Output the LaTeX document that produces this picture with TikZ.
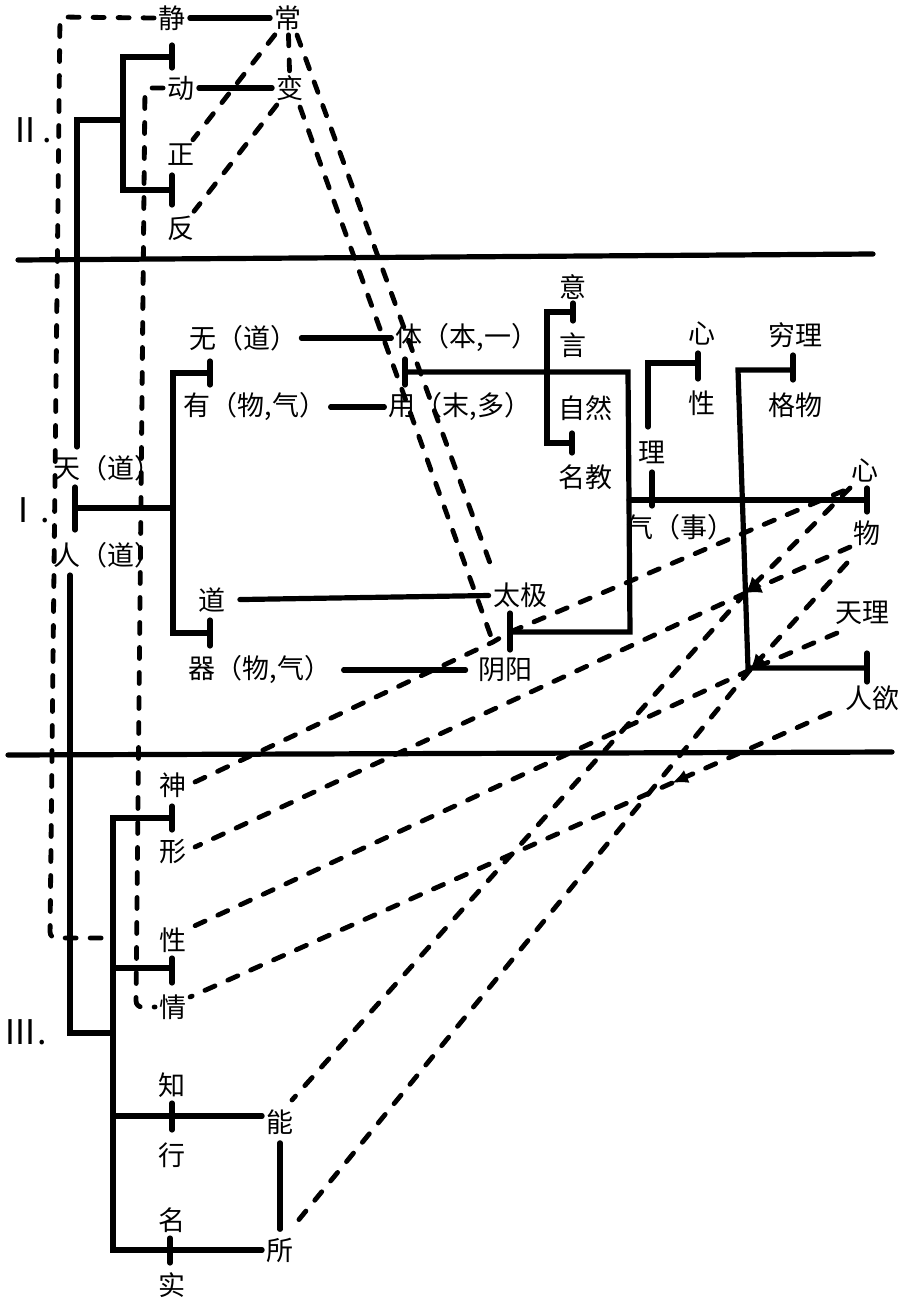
\documentclass[tikz,border=0pt]{standalone}
\usepackage{fontspec}
\newfontfamily\cjk{Noto Sans CJK SC}
\usetikzlibrary{calc,arrows.meta}
\newcommand{\mytick}[3]{\draw[sl] ($(#1)+(0,#2)$) -- ($(#1)+(0,#3)$);}
\begin{document}
\begin{tikzpicture}[x=0.5pt,y=-0.5pt,
  lab/.style={font=\fontsize{13.5pt}{15pt}\cjk, inner sep=2pt},
  rom/.style={font=\fontsize{17pt}{19pt}\cjk, inner sep=1pt},
  sl/.style={line width=2.6pt, line cap=round, line join=miter},
  dl/.style={line width=2.4pt, line cap=round, dash pattern=on 5.5pt off 7pt},
  arr/.style={-{Latex[length=8pt,width=7pt]}}]
\useasboundingbox[fill=white] (0,0) rectangle (904,1300);

% ---------- labels ----------
\node[lab] (jing) at (172,18) {静};
\node[lab] (chang) at (288,18) {常};
\node[lab] (dong) at (181,88) {动};
\node[lab] (bian) at (290,88) {变};
\node[lab] (zheng) at (181,155) {正};
\node[lab] (fan) at (181,228) {反};
\node[rom] (r2) at (30,130) {Ⅱ.};

\node[lab] (wu) at (243,338) {无（道）};
\node[lab] (ti) at (467,338) {体（本,一）};
\node[lab] (you) at (255,407) {有（物,气）};
\node[lab] (yong) at (460,407) {用（末,多）};
\node[lab] (yi) at (573,287) {意};
\node[lab] (yan) at (573,345) {言};
\node[lab] (ziran) at (585,408) {自然};
\node[lab] (mingjiao) at (585,477) {名教};
\node[lab] (xina) at (702,333) {心};
\node[lab] (xinga) at (702,403) {性};
\node[lab] (li) at (652,452) {理};
\node[lab] (qishi) at (680,527) {气（事）};
\node[lab] (qiongli) at (795,335) {穷理};
\node[lab] (gewu) at (795,405) {格物};
\node[lab] (xinb) at (865,470) {心};
\node[lab] (wub) at (867,533) {物};
\node[lab] (tianli) at (862,613) {天理};
\node[lab] (renyu) at (872,698) {人欲};
\node[lab] (tian) at (107,468) {天（道）};
\node[lab] (ren) at (107,555) {人（道）};
\node[rom] (r1) at (28,510) {Ⅰ.};
\node[lab] (dao) at (212,600) {道};
\node[lab] (taiji) at (520,595) {太极};
\node[lab] (qi) at (260,670) {器（物,气）};
\node[lab] (yinyang) at (505,670) {阴阳};

\node[lab] (shen) at (173,785) {神};
\node[lab] (xingb) at (173,852) {形};
\node[lab] (xingc) at (173,940) {性};
\node[lab] (qing) at (173,1007) {情};
\node[rom] (r3) at (25,1032) {Ⅲ.};
\node[lab] (zhi) at (172,1085) {知};
\node[lab] (xingd) at (172,1155) {行};
\node[lab] (ming) at (172,1220) {名};
\node[lab] (shi) at (172,1285) {实};
\node[lab] (neng) at (280,1122) {能};
\node[lab] (suo) at (280,1250) {所};

% ---------- separators ----------
\coordinate (s1a) at (18,260); \coordinate (s1b) at (873,254);
\coordinate (s2a) at (8,755);  \coordinate (s2b) at (892,752);
\draw[sl] (s1a) -- (s1b);
\draw[sl] (s2a) -- (s2b);

% ---------- solid links between labels ----------
\draw[sl] (jing) -- (chang);
\draw[sl] (dong) -- (bian);
\draw[sl] (wu) -- (ti);
\draw[sl] (you) -- (yong);
\draw[sl,shorten <=5pt] (dao) -- (taiji);
\draw[sl,shorten <=4pt,shorten >=4pt] (qi) -- (yinyang);
\draw[sl,shorten <=2pt,shorten >=2pt] (neng) -- (suo);

% ---------- bracket II ----------
\coordinate (c2a) at (77,120); \coordinate (c2b) at (123,120);
\coordinate (c2c) at (123,57); \coordinate (c2d) at (172,57);
\coordinate (c2e) at (123,190); \coordinate (c2f) at (172,190);
\coordinate (c1t) at (77,447);
\draw[sl] (c1t) -- (c2a) -- (c2b);
\draw[sl] (c2d) -- (c2c) -- (c2e) -- (c2f);
\mytick{c2d}{-12}{11}
\mytick{c2f}{-15}{15}

% ---------- bracket I ----------
\coordinate (c1a) at (75,508); \coordinate (c1b) at (173,508);
\coordinate (c1c) at (173,373); \coordinate (c1d) at (210,373);
\coordinate (c1e) at (173,633); \coordinate (c1f) at (210,633);
\draw[sl] (c1a) -- (c1b);
\draw[sl] (c1d) -- (c1c) -- (c1e) -- (c1f);
\mytick{c1a}{-21}{22}
\mytick{c1d}{-12}{12}
\mytick{c1f}{-13}{13}

% ---------- bracket III ----------
\coordinate (c3a) at (70,575); \coordinate (c3b) at (70,1033); \coordinate (c3c) at (113,1033);
\coordinate (c3d) at (113,818); \coordinate (c3e) at (172,818);
\coordinate (c3f) at (113,968); \coordinate (c3g) at (172,968);
\coordinate (c3h) at (113,1116); \coordinate (c3j) at (172,1116);
\coordinate (c3k) at (113,1250); \coordinate (c3m) at (170,1250);
\coordinate (c3x) at (113,938);
\draw[sl] (c3a) -- (c3b) -- (c3c);
\draw[sl] (c3e) -- (c3d) -- (c3k) -- (c3k -| suo.west);
\draw[sl] (c3f) -- (c3g);
\draw[sl] (c3h) -- (c3h -| neng.west);
\mytick{c3e}{-12}{12}
\mytick{c3g}{-10}{15}
\mytick{c3j}{-13}{14}
\mytick{c3m}{-12}{13}

% ---------- ti/yong, taiji/yinyang ----------
\coordinate (d1) at (405,372); \coordinate (d2) at (628,372);
\coordinate (d3) at (630,632); \coordinate (d4) at (510,632);
\draw[sl] (d1) -- (d2) -- (d3) -- (d4);
\mytick{d1}{-13}{13}
\mytick{d4}{-19}{18}
\coordinate (e1) at (547,312); \coordinate (e2) at (573,312);
\coordinate (e3) at (547,443); \coordinate (e4) at (572,443);
\draw[sl] (e2) -- (e1) -- (e3) -- (e4);
\mytick{e2}{-9}{9}
\mytick{e4}{-10}{10}

% ---------- li / qi(shi) ----------
\coordinate (f1) at (629,500); \coordinate (f2) at (867,500); \coordinate (f3) at (652,500);
\draw[sl] (f1) -- (f2);
\mytick{f3}{-28}{6}
\mytick{f2}{-12}{12}
\coordinate (g1) at (648,427); \coordinate (g2) at (648,363); \coordinate (g3) at (698,363);
\draw[sl] (g1) -- (g2) -- (g3);
\mytick{g3}{-10}{16}
\coordinate (h1) at (793,370); \coordinate (h2) at (738,370);
\coordinate (h3) at (748,668); \coordinate (h4) at (867,668);
\draw[sl] (h1) -- (h2) -- (h3) -- (h4);
\mytick{h1}{-15}{10}
\mytick{h4}{-15}{14}

% ---------- dashed links ----------
\coordinate (p1) at (60,17); \coordinate (p2) at (50,938);
\draw[dl,rounded corners=3pt] (jing.west) -- (p1) -- (p2) -- (c3x);
\coordinate (q1) at (145,88); \coordinate (q2) at (136,1007);
\draw[dl,rounded corners=3pt] (dong.west) -- (q1) -- (q2) -- (qing.west);
\draw[dl] (chang) -- (zheng);
\draw[dl] (bian) -- (fan);
\draw[dl] (chang) -- (bian);
\draw[dl] ($(chang)+(9,17)$) -- ($(taiji)+(-30,-32)$);
\coordinate (J0) at (493,642);
\coordinate (Jt) at (510,632);
\draw[dl] ($(bian)+(10,19)$) -- (J0);
\draw[dl] ($(shen)+(22,-3)$) -- (J0) -- (Jt) -- ($(xinb)+(-15,18)$);

\coordinate (X) at (745.5,593);
\coordinate (Y) at (750,670);
\draw[dl,arr] ($(wub)+(-17,14)$) -- (X);
\draw[dl] (X) -- ($(xingb)+(22,-5)$);
\draw[dl,arr] ($(xinb)+(-15,18)$) -- (X);
\draw[dl] (X) -- ($(neng)+(12,-22)$);
\draw[dl,arr] ($(tianli)+(-25,20)$) -- (Y);
\draw[dl] (Y) -- ($(xingc)+(17,-12)$);
\draw[dl,arr] ($(wub)+(-20,30)$) -- (Y);
\draw[dl] (Y) -- ($(suo)+(12,-22)$);
\coordinate (Q) at (672,783);
\draw[dl,arr] ($(renyu)+(-42,15)$) -- (Q);
\draw[dl] (Q) -- ($(qing)+(17,-10)$);
\end{tikzpicture}
\end{document}
